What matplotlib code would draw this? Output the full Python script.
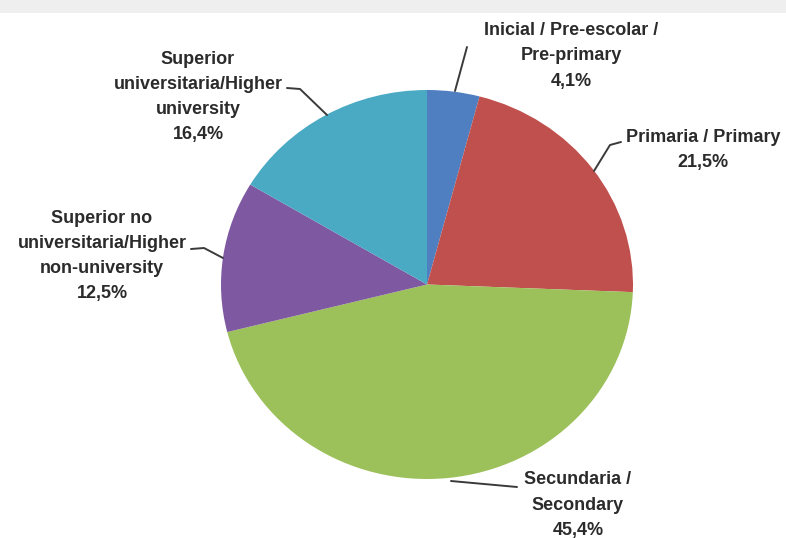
import matplotlib
matplotlib.use("Agg")
import matplotlib.pyplot as plt

plt.rcParams["font.family"] = ["Liberation Sans", "DejaVu Sans"]

# shares by level of education (clockwise from 12 o'clock)
LEVELS = [
    "Inicial / Pre-escolar /\nPre-primary",
    "Primaria / Primary",
    "Secundaria /\nSecondary",
    "Superior no\nuniversitaria/Higher\nnon-university",
    "Superior\nuniversitaria/Higher\nuniversity",
]
SHARES = [4.1, 21.5, 45.4, 12.5, 16.4]
COLORS = ["#4f7fc0", "#c0504d", "#9cc05a", "#7e58a0", "#4aaac4"]

# label block centres and leader lines, in pixel coordinates of the 786x538 canvas
LABEL_POS = [(571, 56), (703, 150), (578, 505), (102, 256), (198, 97)]
LEADERS = [
    [(455, 91), (467, 47)],
    [(594, 171), (610, 145), (621, 142)],
    [(451, 481), (517, 487)],
    [(223, 258), (204, 248), (191, 249)],
    [(327, 115), (300, 89), (287, 88)],
]

W, H = 786, 538
fig = plt.figure(figsize=(W / 100, H / 100), dpi=100)

# pie sits in an axes matching its bounding box (slightly wider than tall)
left, right, top, bottom = 221, 633, 90, 479
pax = fig.add_axes([left / W, 1 - bottom / H, (right - left) / W, (bottom - top) / H])
pax.pie(SHARES, colors=COLORS, startangle=90, counterclock=False, radius=1,
        wedgeprops=dict(linewidth=0))
pax.set_aspect("auto")
pax.set_xlim(-1, 1)
pax.set_ylim(-1, 1)
pax.axis("off")

# overlay for labels and leader lines
ax = fig.add_axes([0, 0, 1, 1], facecolor="none")
ax.set_xlim(0, W)
ax.set_ylim(H, 0)
ax.axis("off")

# faint watermark band along the top edge
ax.fill_between([0, W], 0, 13, color="#efefef", lw=0, zorder=0)

for name, share, (x, y), pts in zip(LEVELS, SHARES, LABEL_POS, LEADERS):
    pct = f"{share:.1f}".replace(".", ",") + "%"
    ax.text(x, y, f"{name}\n{pct}", ha="center", va="center", fontsize=13,
            fontweight="bold", color="#2b2b2b", linespacing=1.62)
    xs, ys = zip(*pts)
    ax.plot(xs, ys, color="#3a3a3a", lw=1.4, solid_capstyle="round")

fig.savefig("out.png", dpi=100, facecolor="white")
